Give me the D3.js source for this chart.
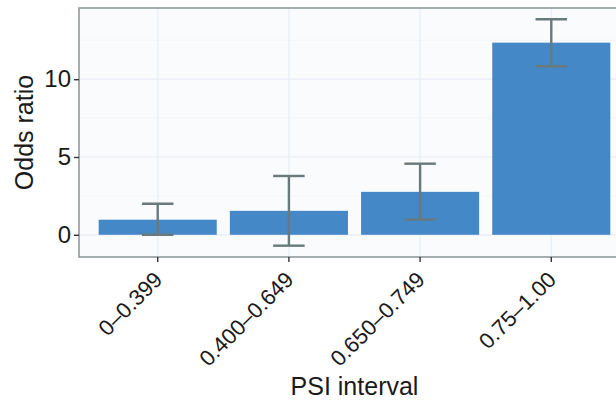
<!DOCTYPE html>
<html>
<head>
<meta charset="utf-8">
<script src="https://cdn.jsdelivr.net/npm/d3@7"></script>
<style>
html,body{margin:0;padding:0;background:#fff;}
svg{display:block;font-family:"Liberation Sans",Arial,Helvetica,sans-serif;}
</style>
</head>
<body>
<svg id="chart" width="616" height="404"></svg>
<script>
const categories = ["0–0.399", "0.400–0.649", "0.650–0.749", "0.75–1.00"];
const oddsRatio = [0.97, 1.54, 2.76, 12.35];
const ciLow = [0.0, -0.7, 0.98, 10.83];
const ciHigh = [2.0, 3.78, 4.57, 13.85];
const yTicks = [0, 5, 10];
const xTitle = "PSI interval";
const yTitle = "Odds ratio";

(function () {
const svg = d3.select("#chart");
const pLeft = 79, pRight = 630, pTop = 8, pBottom = 257;

// ggplot-like discrete expansion (0.6 units each side)
const n = categories.length;
const xLin = d3.scaleLinear().domain([1 - 0.6, n + 0.6]).range([pLeft, pRight]);
const xPos = d => xLin(categories.indexOf(d) + 1);
const unit = xLin(2) - xLin(1);

const yMin = d3.min(ciLow), yMax = d3.max(ciHigh);
const pad = (yMax - yMin) * 0.05;
const y = d3.scaleLinear().domain([yMin - pad, yMax + pad]).range([pBottom, pTop]);

// panel background
svg.append("rect").attr("x", pLeft).attr("y", pTop).attr("width", pRight - pLeft).attr("height", pBottom - pTop)
  .attr("fill", "#f9fbfd");

// grid lines
const g = svg.append("g");
const minor = [2.5, 7.5, 12.5];
g.selectAll(".gminor").data(minor).enter().append("line")
  .attr("x1", pLeft).attr("x2", pRight).attr("y1", d => y(d)).attr("y2", d => y(d))
  .attr("stroke", "#eef2f6").attr("stroke-width", 0.6);
g.selectAll(".gmajor").data(yTicks).enter().append("line")
  .attr("x1", pLeft).attr("x2", pRight).attr("y1", d => y(d)).attr("y2", d => y(d))
  .attr("stroke", "#e8eef4").attr("stroke-width", 1.2);
g.selectAll(".gx").data(categories).enter().append("line")
  .attr("x1", d => xPos(d)).attr("x2", d => xPos(d)).attr("y1", pTop).attr("y2", pBottom)
  .attr("stroke", "#e8eef4").attr("stroke-width", 1.2);

// bars
const bw = unit * 0.9;
svg.selectAll(".bar").data(categories).enter().append("rect")
  .attr("x", d => xPos(d) - bw / 2)
  .attr("width", bw)
  .attr("y", (d, i) => y(Math.max(0, oddsRatio[i])))
  .attr("height", (d, i) => Math.abs(y(oddsRatio[i]) - y(0)))
  .attr("fill", "#4488c8");

// error bars
const ew = unit * 0.24;
const eb = svg.append("g").attr("stroke", "#687a7a").attr("stroke-width", 2.4).attr("fill", "none");
categories.forEach((c, i) => {
  const cx = xPos(c);
  eb.append("line").attr("x1", cx).attr("x2", cx).attr("y1", y(ciLow[i])).attr("y2", y(ciHigh[i]));
  eb.append("line").attr("x1", cx - ew / 2).attr("x2", cx + ew / 2).attr("y1", y(ciLow[i])).attr("y2", y(ciLow[i]));
  eb.append("line").attr("x1", cx - ew / 2).attr("x2", cx + ew / 2).attr("y1", y(ciHigh[i])).attr("y2", y(ciHigh[i]));
});

// panel border
svg.append("rect").attr("x", pLeft).attr("y", pTop).attr("width", pRight - pLeft).attr("height", pBottom - pTop)
  .attr("fill", "none").attr("stroke", "#8f9a9a").attr("stroke-width", 1.6);

// y axis
const yAxis = svg.append("g").attr("transform", `translate(${pLeft},0)`)
  .call(d3.axisLeft(y).tickValues(yTicks).tickSize(5).tickPadding(3));
yAxis.select(".domain").remove();
yAxis.selectAll(".tick line").attr("stroke", "#333").attr("stroke-width", 1.4);
yAxis.selectAll(".tick text").attr("font-size", 24).attr("fill", "#1a1a1a")
  .attr("font-family", "'Liberation Sans',Arial,sans-serif");

// x axis
const xAxis = svg.append("g").attr("transform", `translate(0,${pBottom})`);
const xt = xAxis.selectAll(".xt").data(categories).enter().append("g")
  .attr("transform", d => `translate(${xPos(d)},0)`);
xt.append("line").attr("y1", 0).attr("y2", 5).attr("stroke", "#333").attr("stroke-width", 1.4);
xt.append("text").text(d => d)
  .attr("transform", "translate(6,24) rotate(-45)")
  .attr("text-anchor", "end")
  .attr("font-size", 22).attr("fill", "#1a1a1a");

// titles
svg.append("text").text(xTitle).attr("x", (pLeft + pRight) / 2).attr("y", 395)
  .attr("text-anchor", "middle").attr("font-size", 25).attr("fill", "#1a1a1a");
svg.append("text").text(yTitle)
  .attr("transform", `translate(33,${(pTop + pBottom) / 2}) rotate(-90)`)
  .attr("text-anchor", "middle").attr("font-size", 25).attr("fill", "#1a1a1a");
})();
</script>
</body>
</html>
